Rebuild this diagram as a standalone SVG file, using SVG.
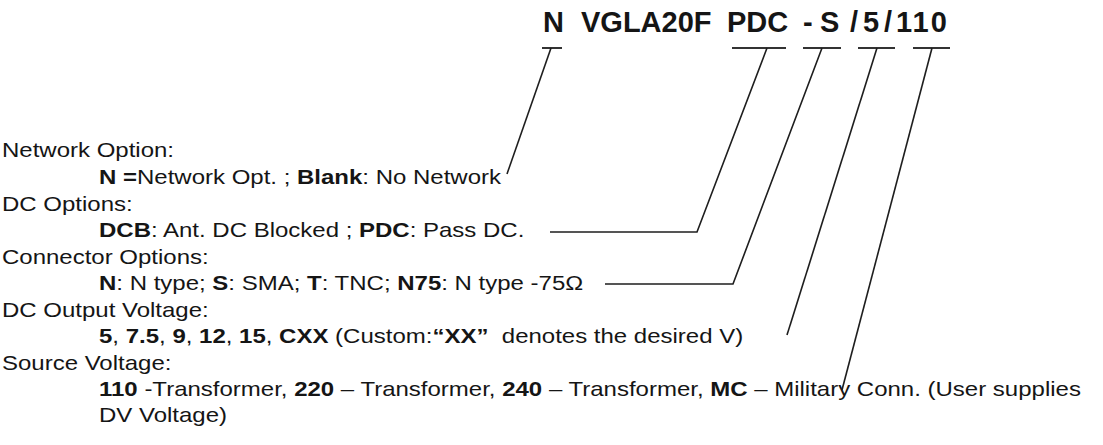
<svg xmlns="http://www.w3.org/2000/svg" width="1103" height="445" viewBox="0 0 1103 445">
<style>
text{font-family:"Liberation Sans",Arial,sans-serif;fill:#151515;white-space:pre}
.t{font-size:29px;font-weight:bold}
.b{font-size:24px}
.k{font-weight:bold}
.ln{stroke:#1e1e1e;stroke-width:1.6;fill:none}
.ul{stroke:#333;stroke-width:2.2;fill:none}
</style>
<rect width="1103" height="445" fill="#fff"/>
<g id="title">
<text class="t" x="543" y="32">N</text>
<text class="t" x="581" y="32">VGLA20F</text>
<text class="t" x="727" y="32">PDC</text>
<text class="t" x="803" y="32">-</text>
<text class="t" x="820" y="32">S</text>
<text class="t" x="850" y="32">/</text>
<text class="t" x="863" y="32">5</text>
<text class="t" x="884" y="32">/</text>
<text class="t" x="896" y="32" letter-spacing="2">110</text>
</g>
<g id="legend-network">
<text class="b" transform="matrix(1 0 0 0.86 2 157)">Network Option:</text>
<text class="b" transform="matrix(1 0 0 0.86 99 184)"><tspan class="k">N =</tspan>Network Opt. ; <tspan class="k">Blank</tspan>: No Network</text>
</g>
<g id="legend-dc">
<text class="b" transform="matrix(1 0 0 0.86 2 211)">DC Options:</text>
<text class="b" transform="matrix(1 0 0 0.86 99 237)"><tspan class="k">DCB</tspan>: Ant. DC Blocked ; <tspan class="k">PDC</tspan>: Pass DC.</text>
</g>
<g id="legend-connector">
<text class="b" transform="matrix(1 0 0 0.86 2 264)">Connector Options:</text>
<text class="b" transform="matrix(1 0 0 0.86 99 290)"><tspan class="k">N</tspan>: N type; <tspan class="k">S</tspan>: SMA; <tspan class="k">T</tspan>: TNC; <tspan class="k">N75</tspan>: N type -75Ω</text>
</g>
<g id="legend-voltage">
<text class="b" transform="matrix(1 0 0 0.86 2 317)">DC Output Voltage:</text>
<text class="b" transform="matrix(1 0 0 0.86 99 343)"><tspan class="k">5</tspan>, <tspan class="k">7.5</tspan>, <tspan class="k">9</tspan>, <tspan class="k">12</tspan>, <tspan class="k">15</tspan>, <tspan class="k">CXX</tspan> (Custom:<tspan class="k">“XX”</tspan>  denotes the desired V)</text>
</g>
<g id="legend-source">
<text class="b" transform="matrix(1 0 0 0.86 2 370)">Source Voltage:</text>
<text class="b" transform="matrix(1 0 0 0.86 99 396)"><tspan class="k">110</tspan> -Transformer, <tspan class="k">220</tspan> – Transformer, <tspan class="k">240</tspan> – Transformer, <tspan class="k">MC</tspan> – Military Conn. (User supplies</text>
<text class="b" transform="matrix(1 0 0 0.86 99 422)">DV Voltage)</text>
</g>
<g id="connectors">
<path class="ul" d="M542 48H562M732 48H786M803 48H841M858 48H895M913 48H950"/>
<path class="ln" d="M551 48L507 174"/>
<path class="ln" d="M767 48L697 232H550"/>
<path class="ln" d="M822 48L733 284H605"/>
<path class="ln" d="M877 48L787 335"/>
<path class="ln" d="M932 48L842 390"/>
</g>
</svg>
